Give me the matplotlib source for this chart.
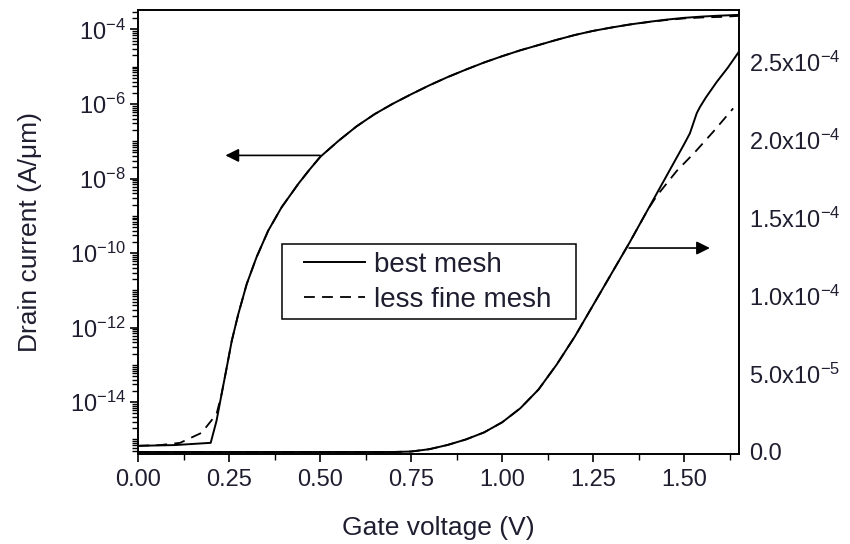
import math
import matplotlib
matplotlib.use("Agg")
import matplotlib.pyplot as plt
from matplotlib.patches import Rectangle
from matplotlib.ticker import LogLocator, FixedLocator, FuncFormatter, NullFormatter

plt.rcParams['font.family'] = ['Liberation Sans', 'DejaVu Sans']
plt.rcParams['mathtext.default'] = 'regular'

# left axis (log scale) - drain current, A/um
v_log_best = [0.00, 0.10, 0.199, 0.215, 0.229, 0.243, 0.257, 0.275, 0.298, 0.325, 0.357, 0.394, 0.44, 0.47,
              0.50, 0.55, 0.60, 0.65, 0.70, 0.75, 0.80, 0.85, 0.90, 0.95, 1.00, 1.05, 1.10, 1.15, 1.20,
              1.25, 1.30, 1.35, 1.40, 1.45, 1.50, 1.55, 1.60, 1.65]
i_log_best = [6.76e-16, 7.08e-16, 8.13e-16, 3.16e-15, 1.66e-14, 8.51e-14, 4.47e-13, 2.34e-12, 1.48e-11,
              7.76e-11, 3.98e-10, 1.70e-9, 7.24e-9, 1.70e-8, 3.80e-8, 1.02e-7, 2.51e-7, 5.37e-7, 1.02e-6,
              1.82e-6, 3.16e-6, 5.25e-6, 8.32e-6, 1.29e-5, 1.91e-5, 2.75e-5, 3.80e-5, 5.25e-5, 7.08e-5,
              9.12e-5, 1.12e-4, 1.35e-4, 1.58e-4, 1.82e-4, 2.04e-4, 2.21e-4, 2.34e-4, 2.45e-4]
v_log_less = [0.00, 0.06, 0.115, 0.174, 0.215, 0.229, 0.243, 0.257, 0.275, 0.298, 0.325, 0.357, 0.394, 0.44,
              0.47, 0.50, 0.55, 0.60, 0.65, 0.70, 0.75, 0.80, 0.85, 0.90, 0.95, 1.00, 1.05, 1.10, 1.15,
              1.20, 1.25, 1.30, 1.35, 1.40, 1.45, 1.50, 1.55, 1.60, 1.65]
i_log_less = [6.76e-16, 7.08e-16, 8.13e-16, 1.51e-15, 4.8e-15, 1.66e-14, 8.51e-14, 4.47e-13, 2.34e-12,
              1.48e-11, 7.76e-11, 3.98e-10, 1.70e-9, 7.24e-9, 1.70e-8, 3.80e-8, 1.02e-7, 2.51e-7, 5.37e-7,
              1.02e-6, 1.82e-6, 3.16e-6, 5.25e-6, 8.32e-6, 1.29e-5, 1.91e-5, 2.75e-5, 3.80e-5, 5.25e-5,
              7.08e-5, 9.12e-5, 1.12e-4, 1.35e-4, 1.56e-4, 1.78e-4, 1.97e-4, 2.09e-4, 2.16e-4, 2.30e-4]

# right axis (linear scale)
v_lin_best = [0.00, 0.65, 0.70, 0.75, 0.80, 0.85, 0.90, 0.95, 1.00, 1.05, 1.10, 1.15, 1.20, 1.25, 1.30,
              1.35, 1.40, 1.45, 1.50, 1.516, 1.535, 1.544, 1.56, 1.59, 1.62, 1.65]
i_lin_best = [0.0, 0.0, 0.0, 0.3e-6, 1.8e-6, 4.5e-6, 8.0e-6, 1.25e-5, 1.9e-5, 2.8e-5, 4.0e-5, 5.6e-5, 7.4e-5,
              9.4e-5, 1.14e-4, 1.34e-4, 1.55e-4, 1.76e-4, 1.97e-4, 2.04e-4, 2.17e-4, 2.21e-4, 2.27e-4,
              2.37e-4, 2.46e-4, 2.56e-4]
v_lin_less = [0.00, 0.65, 0.70, 0.75, 0.80, 0.85, 0.90, 0.95, 1.00, 1.05, 1.10, 1.15, 1.20, 1.25, 1.30,
              1.35, 1.40, 1.425, 1.48, 1.53, 1.58, 1.635]
i_lin_less = [0.0, 0.0, 0.0, 0.3e-6, 1.8e-6, 4.5e-6, 8.0e-6, 1.25e-5, 1.9e-5, 2.8e-5, 4.0e-5, 5.6e-5, 7.4e-5,
              9.4e-5, 1.14e-4, 1.34e-4, 1.55e-4, 1.64e-4, 1.80e-4, 1.92e-4, 2.05e-4, 2.20e-4]

x_ticks = [0.0, 0.25, 0.5, 0.75, 1.0, 1.25, 1.5]
right_ticks = [0.0, 5e-5, 1e-4, 1.5e-4, 2e-4, 2.5e-4]
right_labels = ['0.0', r'5.0x10$^{-5}$', r'1.0x10$^{-4}$', r'1.5x10$^{-4}$', r'2.0x10$^{-4}$', r'2.5x10$^{-4}$']

txt = '#1e1e30'
fig = plt.figure(figsize=(8.5, 5.44), dpi=100)
ax = fig.add_axes([0.1627, 0.1654, 0.7067, 0.8162])
ax2 = ax.twinx()

dash = (0, (6, 4))
ax.plot(v_log_best, i_log_best, color='black', lw=1.4, label='best mesh')
ax.plot(v_log_less, i_log_less, color='black', lw=1.3, linestyle=dash, label='less fine mesh')
ax2.plot(v_lin_best, i_lin_best, color='black', lw=1.4)
ax2.plot(v_lin_less, i_lin_less, color='black', lw=1.3, linestyle=dash)

ax.set_yscale('log')
ax.set_xlim(0, 1.651)
ax.set_ylim(10**-15.39, 10**-3.48)
ax2.set_ylim(-1.3e-6, 2.83e-4)

ax.set_xticks(x_ticks)
ax.set_xticklabels(['%.2f' % v for v in x_ticks])
ax.xaxis.set_minor_locator(FixedLocator([0.125, 0.375, 0.625, 0.875, 1.125, 1.375, 1.625]))
# labelled decades are majors, the other decades and 2..9 are minors
ax.yaxis.set_major_locator(FixedLocator([1e-14, 1e-12, 1e-10, 1e-8, 1e-6, 1e-4]))
ax.yaxis.set_minor_locator(LogLocator(base=10, subs=range(1, 10), numticks=30))
ax.yaxis.set_major_formatter(FuncFormatter(lambda y, p: r'10$^{%d}$' % round(math.log10(y))))
ax.yaxis.set_minor_formatter(NullFormatter())

ax.tick_params(axis='both', which='major', direction='out', length=6, width=1.2,
               labelsize=17, labelcolor=txt, top=False, right=False)
ax.tick_params(axis='both', which='minor', direction='out', length=4, width=1.0, top=False, right=False)
ax.tick_params(axis='x', pad=5)
ax.tick_params(axis='y', pad=3)

ax2.set_yticks(right_ticks)
ax2.set_yticklabels(right_labels)
ax2.tick_params(axis='y', length=0, pad=7, labelsize=17, labelcolor=txt)

for a in (ax, ax2):
    for s in a.spines.values():
        s.set_linewidth(1.2)

ax.set_xlabel('Gate voltage (V)', fontsize=19, color=txt, labelpad=18)
ax.set_ylabel('Drain current (A/μm)', fontsize=19, color=txt, labelpad=20)

# legend without its own frame, box drawn separately
leg = ax.legend(loc='center left', bbox_to_anchor=(0.2759, 0.3863), borderaxespad=0, borderpad=0,
                fontsize=20, frameon=False, handlelength=2.2, handletextpad=0.32, labelspacing=0.32)
for t in leg.get_texts():
    t.set_color(txt)
ax.add_patch(Rectangle((0.2387, 0.3034), 0.4894, 0.1696, transform=ax.transAxes,
                       fill=False, edgecolor='black', lw=1.1, zorder=5))

# arrows pointing to each axis
ax.annotate('', xy=(0.2395, 10**-7.38), xytext=(0.50, 10**-7.38),
            arrowprops=dict(arrowstyle='-|>', color='black', lw=1.2, mutation_scale=20, shrinkA=0, shrinkB=0))
ax2.annotate('', xy=(1.571, 1.306e-4), xytext=(1.349, 1.306e-4),
             arrowprops=dict(arrowstyle='-|>', color='black', lw=1.2, mutation_scale=20, shrinkA=0, shrinkB=0))

fig.savefig('out.png', dpi=100)
